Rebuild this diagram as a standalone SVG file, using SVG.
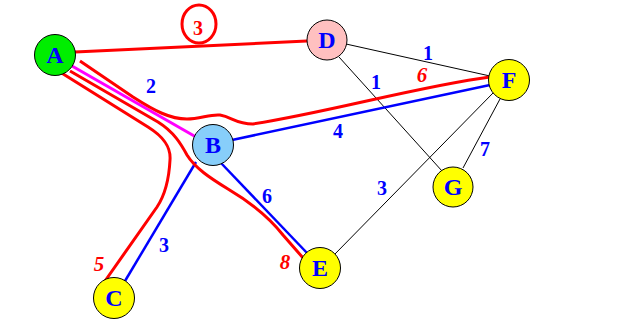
<svg xmlns="http://www.w3.org/2000/svg" width="622" height="331" viewBox="0 0 622 331">
<style>
.n{stroke:#000;stroke-width:1}
.t{font-family:"Liberation Serif",serif;font-weight:bold;font-size:24px;fill:#0000ff;text-anchor:middle}
.w{font-family:"Liberation Serif",serif;font-weight:bold;font-size:20px;fill:#0000ff;text-anchor:middle}
.r{font-family:"Liberation Serif",serif;font-weight:bold;font-style:italic;font-size:21px;fill:#ff0000;text-anchor:middle}
.k{stroke:#000;stroke-width:1;fill:none}
.b{stroke:#0000ff;stroke-width:2.5;fill:none}
.h{stroke:#ff0000;stroke-width:3;fill:none}
</style>
<rect width="622" height="331" fill="#fff"/>
<g id="connectors">
<line class="k" x1="346" y1="44" x2="490" y2="76"/>
<line class="k" x1="339" y1="57" x2="442" y2="171"/>
<line class="k" x1="500" y1="99" x2="463" y2="168"/>
<line class="k" x1="494" y1="92" x2="334" y2="255"/>
<line x1="72" y1="66" x2="196" y2="137" stroke="#ff00ff" stroke-width="3"/>
<line class="b" x1="232" y1="140" x2="490" y2="85"/>
<line class="b" x1="196" y1="162" x2="125" y2="281"/>
<line class="b" x1="221" y1="163" x2="308" y2="254"/>
<line class="h" x1="75" y1="52" x2="307" y2="41"/>
<ellipse class="h" cx="199" cy="24" rx="17" ry="19"/>
<path class="h" d="M80,61 L133,97 C155,111 170,119 187,119 C200,119 210,114 220,115 C232,117 236,124 253,124 C330,112 420,86 490,77"/>
<path class="h" d="M70,71 L158,122 C174,132 181,144 187,155 C195,168 210,178 228,189 C250,202 268,216 283,235 L304,259"/>
<path class="h" d="M60,72 L148,127 C164,137 171,147 170,160 C169,180 165,195 157,207 L105,281"/>
<text class="w" x="198" y="35" style="fill:#ff0000">3</text>
<text class="w" x="151" y="93">2</text>
<text class="w" x="428" y="60">1</text>
<text class="w" x="376" y="89">1</text>
<text class="w" x="338" y="138">4</text>
<text class="w" x="485" y="156">7</text>
<text class="w" x="382" y="195">3</text>
<text class="w" x="267" y="203">6</text>
<text class="w" x="164" y="252">3</text>
<text class="r" x="422" y="82">6</text>
<text class="r" x="285" y="269">8</text>
<text class="r" x="99" y="271">5</text>
</g>
<g id="A"><circle class="n" cx="55" cy="55" r="20.5" fill="#00ee00"/><text class="t" x="55" y="63">A</text></g>
<g id="D"><circle class="n" cx="327" cy="40" r="20" fill="#ffc0c0"/><text class="t" x="327" y="48">D</text></g>
<g id="B"><circle class="n" cx="213" cy="145" r="20.5" fill="#87cefa"/><text class="t" x="213" y="153">B</text></g>
<g id="F"><circle class="n" cx="509" cy="80" r="20.5" fill="#ffff00"/><text class="t" x="509" y="88">F</text></g>
<g id="G"><circle class="n" cx="453" cy="187" r="20" fill="#ffff00"/><text class="t" x="453" y="195">G</text></g>
<g id="E"><circle class="n" cx="320" cy="268" r="20.5" fill="#ffff00"/><text class="t" x="320" y="276">E</text></g>
<g id="C"><circle class="n" cx="114" cy="298" r="20.5" fill="#ffff00"/><text class="t" x="114" y="306">C</text></g>
</svg>
